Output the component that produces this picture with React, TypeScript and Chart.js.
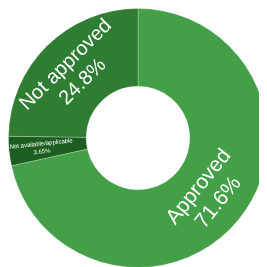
import React, { useEffect, useRef } from "react";
import { Chart, registerables } from "chart.js";

Chart.register(...registerables);

const categories = ["Approved", "Not available/applicable", "Not approved"];
const values = [71.6, 3.65, 24.8];
const valueLabels = ["71.6%", "3.65%", "24.8%"];

const COLORS = ["#43a047", "#1b5e20", "#2e7d32"];
const LABEL_STYLE = [
  { size: 21, mode: "tangent", rFactor: 0.5, lineGap: 1.2 },
  { size: 6, mode: "radial", rFactor: 0.58, lineGap: 1.3 },
  { size: 20, mode: "tangent", rFactor: 0.5, lineGap: 1.2 },
];

const norm = (a: number) => {
  while (a > Math.PI / 2) a -= Math.PI;
  while (a <= -Math.PI / 2) a += Math.PI;
  return a;
};

const labelPlugin = {
  id: "sliceLabels",
  afterDatasetsDraw(chart: any) {
    const ctx = chart.ctx;
    const meta = chart.getDatasetMeta(0);
    meta.data.forEach((arc: any, i: number) => {
      const { x, y, startAngle, endAngle, innerRadius, outerRadius } = arc.getProps(
        ["x", "y", "startAngle", "endAngle", "innerRadius", "outerRadius"],
        true
      );
      const st = LABEL_STYLE[i];
      const mid = (startAngle + endAngle) / 2;
      const r = innerRadius + (outerRadius - innerRadius) * st.rFactor;
      const cx = x + Math.cos(mid) * r;
      const cy = y + Math.sin(mid) * r;
      const rot = norm(st.mode === "tangent" ? mid + Math.PI / 2 : mid);
      ctx.save();
      ctx.translate(cx, cy);
      ctx.rotate(rot);
      ctx.fillStyle = "#ffffff";
      ctx.textAlign = "center";
      ctx.textBaseline = "middle";
      ctx.font = `${st.size}px "Liberation Sans", Arial, sans-serif`;
      const gap = st.size * st.lineGap;
      ctx.fillText(categories[i], 0, -gap / 2);
      ctx.fillText(valueLabels[i], 0, gap / 2);
      ctx.restore();
    });
  },
};

export default function App() {
  const ref = useRef<HTMLCanvasElement>(null);
  useEffect(() => {
    if (!ref.current) return;
    const chart = new Chart(ref.current, {
      type: "doughnut",
      data: {
        labels: categories,
        datasets: [
          {
            data: values,
            backgroundColor: COLORS,
            borderColor: "rgba(255,255,255,0.25)",
            borderWidth: 1,
          },
        ],
      },
      options: {
        responsive: false,
        animation: false,
        cutout: "40%",
        rotation: 0,
        layout: { padding: 0 },
        plugins: {
          legend: { display: false },
          tooltip: { enabled: false },
        },
      },
      plugins: [labelPlugin],
    });
    return () => chart.destroy();
  }, []);
  return <canvas ref={ref} width={260} height={260} style={{ display: "block" }} />;
}
